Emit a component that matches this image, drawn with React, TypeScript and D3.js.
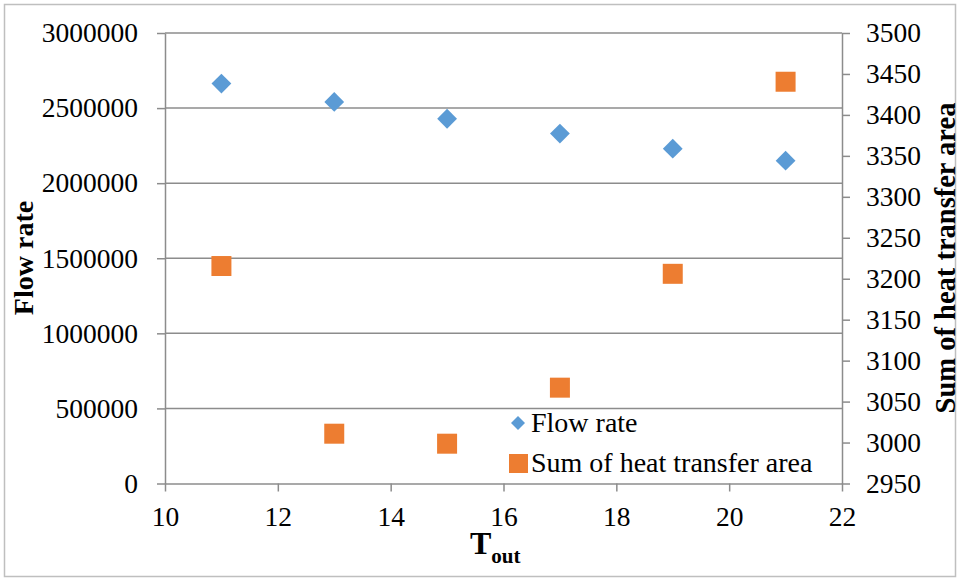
import React, { useEffect, useRef } from 'react';
import * as d3 from 'd3';

const tOut = [11, 13, 15, 17, 19, 21];
const flowRate = [2663000, 2541000, 2429000, 2330000, 2230000, 2150000];
const heatArea = [3215.5, 3010.8, 2998.6, 3067, 3206, 3440.5];
const xTicks = [10, 12, 14, 16, 18, 20, 22];
const leftTicks = [0, 500000, 1000000, 1500000, 2000000, 2500000, 3000000];
const rightTicks = [2950, 3000, 3050, 3100, 3150, 3200, 3250, 3300, 3350, 3400, 3450, 3500];

const BLUE = '#5B9BD5';
const ORANGE = '#ED7D31';
const FONT = "'Liberation Serif', 'Times New Roman', Times, serif";

export default function App() {
  const svgRef = useRef<SVGSVGElement>(null);

  useEffect(() => {
    document.body.style.margin = '0';
    if (!svgRef.current) return;
    const svg = d3.select(svgRef.current);
    svg.selectAll('*').remove();

    const width = 960;
    const height = 580;
    const plot = { left: 165, right: 842, top: 33, bottom: 483.5 };

    const x = d3.scaleLinear().domain([10, 22]).range([plot.left, plot.right]);
    const yL = d3.scaleLinear().domain([0, 3000000]).range([plot.bottom, plot.top]);
    const yR = d3.scaleLinear().domain([2950, 3500]).range([plot.bottom, plot.top]);

    svg.append('rect')
      .attr('x', 4.5).attr('y', 4.5)
      .attr('width', width - 9).attr('height', height - 8)
      .attr('fill', '#fff').attr('stroke', '#BFBFBF').attr('stroke-width', 1.5);

    // gridlines
    svg.append('g')
      .selectAll('line')
      .data(leftTicks.filter(d => d > 0))
      .enter()
      .append('line')
      .attr('x1', plot.left).attr('x2', plot.right)
      .attr('y1', d => yL(d)).attr('y2', d => yL(d))
      .attr('stroke', '#8C8C8C').attr('stroke-width', 1.5);

    const styleAxis = (g: d3.Selection<SVGGElement, unknown, null, undefined>) => {
      g.attr('font-family', null).attr('font-size', null);
      g.selectAll('.domain').attr('stroke', '#8C8C8C').attr('stroke-width', 1.5);
      g.selectAll('.tick line').attr('stroke', '#8C8C8C').attr('stroke-width', 1.5);
      g.selectAll('text')
        .style('font-family', FONT)
        .style('font-size', '27.5px')
        .attr('fill', '#000');
    };

    svg.append('g')
      .attr('transform', `translate(0,${plot.bottom})`)
      .call(d3.axisBottom(x).tickValues(xTicks).tickSize(8).tickSizeOuter(0).tickPadding(15).tickFormat(d3.format('d')))
      .call(styleAxis);

    svg.append('g')
      .attr('transform', `translate(${plot.left},0)`)
      .call(d3.axisLeft(yL).tickValues(leftTicks).tickSize(8).tickSizeOuter(0).tickPadding(19).tickFormat(d3.format('d')))
      .call(styleAxis);

    svg.append('g')
      .attr('transform', `translate(${plot.right},0)`)
      .call(d3.axisRight(yR).tickValues(rightTicks).tickSize(8).tickSizeOuter(0).tickPadding(16).tickFormat(d3.format('d')))
      .call(styleAxis);

    const diamond = d3.symbol().type(d3.symbolSquare).size(196);
    const square = d3.symbol().type(d3.symbolSquare).size(400);

    // series 1: flow rate (diamonds)
    svg.append('g')
      .selectAll('path')
      .data(tOut)
      .enter()
      .append('path')
      .attr('d', diamond()!)
      .attr('transform', (d, i) => `translate(${x(d)},${yL(flowRate[i])}) rotate(45)`)
      .attr('fill', BLUE);

    // series 2: sum of heat transfer area (squares)
    svg.append('g')
      .selectAll('path')
      .data(tOut)
      .enter()
      .append('path')
      .attr('d', square()!)
      .attr('transform', (d, i) => `translate(${x(d)},${yR(heatArea[i])})`)
      .attr('fill', ORANGE);

    // legend
    const legend = svg.append('g').style('font-family', FONT).style('font-size', '28px');
    legend.append('path').attr('d', d3.symbol().type(d3.symbolSquare).size(98)()!)
      .attr('transform', 'translate(518,423) rotate(45)').attr('fill', BLUE);
    legend.append('text').attr('x', 531).attr('y', 432).text('Flow rate');
    legend.append('rect').attr('x', 509).attr('y', 454).attr('width', 19).attr('height', 19).attr('fill', ORANGE);
    legend.append('text').attr('x', 531).attr('y', 472).text('Sum of heat transfer area');

    // axis titles
    svg.append('text')
      .attr('transform', `translate(33,258) rotate(-90)`)
      .attr('text-anchor', 'middle')
      .style('font-family', FONT).style('font-size', '28px').style('font-weight', 'bold')
      .text('Flow rate');

    svg.append('text')
      .attr('transform', `translate(955,258) rotate(-90)`)
      .attr('text-anchor', 'middle')
      .style('font-family', FONT).style('font-size', '28.5px').style('font-weight', 'bold')
      .text('Sum of heat transfer area');

    const xt = svg.append('text')
      .attr('x', 470).attr('y', 554)
      .style('font-family', FONT).style('font-weight', 'bold');
    xt.append('tspan').style('font-size', '32px').text('T');
    xt.append('tspan').style('font-size', '21px').attr('dy', 9).text('out');
  }, []);

  return <svg ref={svgRef} width={960} height={580} style={{ display: 'block' }} />;
}
